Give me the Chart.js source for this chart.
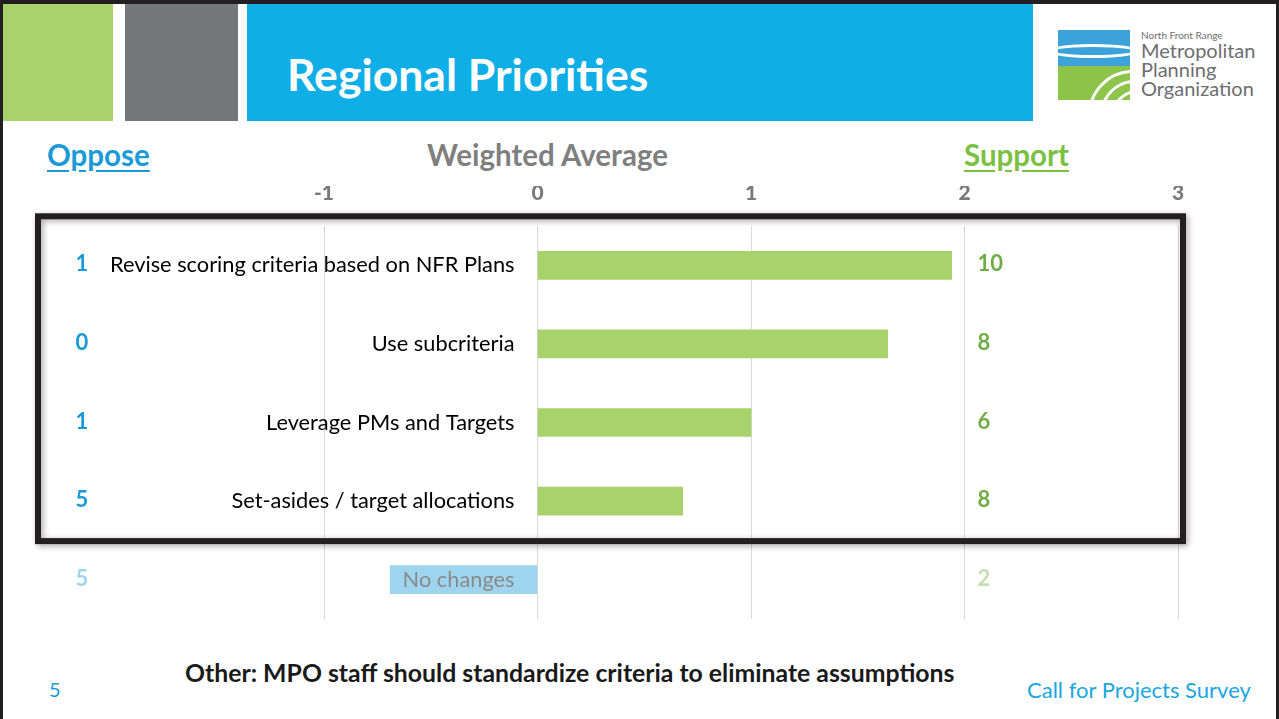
<!DOCTYPE html>
<html lang="en">
<head>
    <meta charset="UTF-8">
    <title>Regional Priorities</title>
    <script src="https://cdn.jsdelivr.net/npm/chart.js@4.4.0/dist/chart.umd.min.js"></script>
    <style>
        * { margin: 0; padding: 0; box-sizing: border-box; }
        body {
            width: 1279px; height: 719px; overflow: hidden; position: relative;
            background: #fff; font-family: Lato, 'Open Sans', sans-serif;
        }
        #frame {
            position: absolute; left: 0; top: 0; width: 1279px; height: 719px;
            border-top: 4px solid #231f20; border-left: 3px solid #231f20; border-right: 3px solid #231f20;
            pointer-events: none; z-index: 5;
        }
        .blk { position: absolute; top: 4px; height: 117px; }
        #green { left: 3px; width: 110px; background: #a8d26b; }
        #gray { left: 125px; width: 113px; background: #75787b; }
        #banner { left: 247px; width: 786px; background: #10aee6; }
        #banner h1 {
            position: absolute; left: 40px; top: 44px; color: #fff;
            font-size: 44.5px; font-weight: bold; line-height: 52px;
        }
        #logo { position: absolute; left: 1058px; top: 30px; width: 72px; height: 70px;
            background: linear-gradient(#3ba3da 0 52%, #8cc54a 52% 100%); overflow: hidden; }
        #logo .w { position: absolute; border: 3px solid #fff; border-radius: 50%; }
        #logoText { position: absolute; left: 1141px; top: 29px; color: #6d6e71; line-height: 19px; font-size: 20px; }
        #logoText small { display: block; font-size: 10px; line-height: 12px; }
        .hdr { position: absolute; top: 138px; font-size: 29.5px; font-weight: bold; line-height: 34px; }
        #oppose { left: 47px; color: #1a9ad6; text-decoration: underline; text-underline-offset: 4px; }
        #wavg { left: 427px; color: #7f7f7f; }
        #support { left: 964px; color: #7ac143; text-decoration: underline; text-underline-offset: 4px; }
        #wrap { position: absolute; left: 0; top: 170px; width: 1279px; height: 460px; }
        .foot { position: absolute; }
        #pg { left: 49px; top: 677px; color: #1a9ad6; font-size: 20px; line-height: 24px; }
        #other { left: 185px; top: 658px; font-size: 24.8px; line-height: 30px; font-weight: bold; color: #1a1a1a; }
        #survey { left: 1027px; top: 677px; color: #1aa6e0; font-size: 22px; line-height: 26px; }
    </style>
</head>
<body>
    <div id="frame"></div>
    <div class="blk" id="green"></div>
    <div class="blk" id="gray"></div>
    <div class="blk" id="banner"><h1>Regional Priorities</h1></div>
    <div id="logo">
        <div class="w" style="left:-20px;top:6px;width:110px;height:22px;border-color:transparent transparent #fff transparent"></div>
        <div class="w" style="left:-20px;top:14px;width:110px;height:22px;border-color:#fff transparent transparent transparent"></div>
        <div class="w" style="left:30px;top:40px;width:90px;height:90px"></div>
        <div class="w" style="left:42px;top:50px;width:70px;height:70px"></div>
        <div class="w" style="left:54px;top:60px;width:50px;height:50px"></div>
    </div>
    <div id="logoText"><small>North Front Range</small>Metropolitan<br>Planning<br>Organization</div>

    <div class="hdr" id="oppose">Oppose</div>
    <div class="hdr" id="wavg">Weighted Average</div>
    <div class="hdr" id="support">Support</div>

    <div id="wrap"><canvas id="chart"></canvas></div>

    <div class="foot" id="pg">5</div>
    <div class="foot" id="other">Other: MPO staff should standardize criteria to eliminate assumptions</div>
    <div class="foot" id="survey">Call for Projects Survey</div>

    <script>
        const categories = ['Revise scoring criteria based on NFR Plans', 'Use subcriteria', 'Leverage PMs and Targets', 'Set-asides / target allocations', 'No changes']
        const weightedAvg = [1.94, 1.64, 1.0, 0.68, -0.69]
        const opposeCounts = [1, 0, 1, 5, 5]
        const supportCounts = [10, 8, 6, 8, 2]
        const axisMin = -1
        const axisMax = 3

        const barColors = ['#a8d26b', '#a8d26b', '#a8d26b', '#a8d26b', '#9fd4ef']

        const overlay = {
            id: 'overlay',
            afterDatasetsDraw(chart) {
                const ctx = chart.ctx
                const xs = chart.scales.x
                const ys = chart.scales.y
                const zero = xs.getPixelForValue(0)
                ctx.save()
                ctx.textBaseline = 'middle'
                categories.forEach((c, i) => {
                    const y = ys.getPixelForValue(i)
                    const last = i === categories.length - 1
                    ctx.font = '21.8px Lato'
                    ctx.textAlign = 'right'
                    ctx.fillStyle = last ? '#8a8a8a' : '#000'
                    ctx.fillText(c, zero - 23, y)

                    ctx.font = 'bold 22px Lato'
                    ctx.textAlign = 'center'
                    ctx.fillStyle = last ? '#9fd4ef' : '#1a9ad6'
                    ctx.fillText(opposeCounts[i], 82, y - 1)
                    ctx.textAlign = 'left'
                    ctx.fillStyle = last ? '#c5e0b4' : '#70ad47'
                    ctx.fillText(supportCounts[i], xs.getPixelForValue(2) + 13, y - 1)
                })

                // box around the first four rows
                const top = ys.getPixelForValue(0) - 49
                const bottom = ys.getPixelForValue(3) + 40
                const right = xs.getPixelForValue(axisMax) + 5
                ctx.shadowColor = 'rgba(0,0,0,0.35)'
                ctx.shadowBlur = 6
                ctx.shadowOffsetX = 2
                ctx.shadowOffsetY = 2
                ctx.strokeStyle = '#231f20'
                ctx.lineWidth = 6
                ctx.strokeRect(38, top, right - 38, bottom - top)
                ctx.restore()
            }
        }

        new Chart(document.getElementById('chart'), {
            type: 'bar',
            data: {
                labels: categories,
                datasets: [{
                    data: weightedAvg,
                    backgroundColor: barColors,
                    barThickness: 28
                }]
            },
            options: {
                indexAxis: 'y',
                responsive: true,
                maintainAspectRatio: false,
                animation: false,
                layout: { padding: { left: 324, right: 101, top: 16, bottom: 11 } },
                scales: {
                    x: {
                        position: 'top',
                        min: axisMin,
                        max: axisMax,
                        ticks: {
                            stepSize: 1,
                            color: '#7a7a7a',
                            padding: 20,
                            font: { family: 'Lato', size: 21, weight: 900 }
                        },
                        grid: { color: '#d9d9d9', drawTicks: false },
                        border: { display: false },
                        afterFit(s) { s.height = 40 }
                    },
                    y: { display: false }
                },
                plugins: {
                    legend: { display: false },
                    tooltip: { enabled: false }
                }
            },
            plugins: [overlay]
        })
    </script>
</body>
</html>
